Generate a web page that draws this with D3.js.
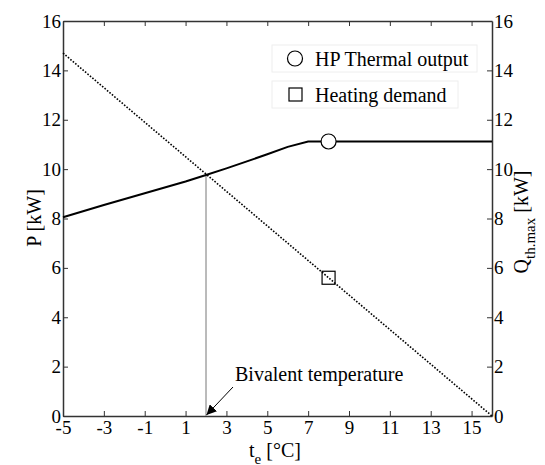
<!DOCTYPE html>
<html>
<head>
<meta charset="utf-8">
<script src="https://cdn.jsdelivr.net/npm/d3@7"></script>
<style>
body { margin: 0; background: white; }
svg text { font-family: "Liberation Serif", "Times New Roman", Times, "DejaVu Serif", serif !important; fill: black; }
</style>
</head>
<body>
<svg id="svg"></svg>
<script>
var larghezza = 545;
var altezza = 465;

// data
var temps = [-5, -3, -1, 1, 2, 3, 5, 6, 7, 16];
var hpOutput = [8.05, 8.55, 9.02, 9.5, 9.76, 10.03, 10.6, 10.9, 11.12, 11.12];
var demandTemps = [-5, 16];
var demand = [14.7, 0];
var markerTemp = 8;
var hpMarker = 11.12;
var demandMarker = 5.6;
var bivalentTemp = 2;
var bivalentP = 9.76;
var xTicks = [-5, -3, -1, 1, 3, 5, 7, 9, 11, 13, 15];
var yTicks = [0, 2, 4, 6, 8, 10, 12, 14, 16];
var legendLabels = ["HP Thermal output", "Heating demand"];

var x = d3.scaleLinear().domain([-5, 16]).range([63, 492]);
var y = d3.scaleLinear().domain([0, 16]).range([416, 21]);

function plain(d) { return String(d); }

function draw() {
    var svg = d3.select("#svg");
    svg.attr("width", larghezza).attr("height", altezza)
        .attr("font-family", "Liberation Serif");

    svg.append("defs").append("marker")
        .attr("id", "arrow")
        .attr("viewBox", "0 0 10 10")
        .attr("refX", 10).attr("refY", 5)
        .attr("markerWidth", 10).attr("markerHeight", 10)
        .attr("markerUnits", "userSpaceOnUse")
        .attr("orient", "auto")
        .append("path")
        .attr("d", "M0,0 L10,5 L0,10 Z")
        .style("fill", "black");

    drawAxes(svg);
    drawLines(svg);
    drawLegend(svg);
    drawLabels(svg);
}

function drawAxes(svg) {
    var bottom = svg.append("g").attr("transform", "translate(0," + y(0) + ")")
        .call(d3.axisBottom(x).tickValues(xTicks).tickFormat(plain).tickSizeInner(-5).tickSizeOuter(0).tickPadding(2));
    var top = svg.append("g").attr("transform", "translate(0," + y(16) + ")")
        .call(d3.axisTop(x).tickValues(xTicks).tickSizeInner(-5).tickSizeOuter(0).tickFormat(""));
    var left = svg.append("g").attr("transform", "translate(" + x(-5) + ",0)")
        .call(d3.axisLeft(y).tickValues(yTicks).tickFormat(plain).tickSizeInner(-5).tickSizeOuter(0).tickPadding(2));
    var right = svg.append("g").attr("transform", "translate(" + x(16) + ",0)")
        .call(d3.axisRight(y).tickValues(yTicks).tickFormat(plain).tickSizeInner(-5).tickSizeOuter(0).tickPadding(2));

    [bottom, top, left, right].forEach(function (g) {
        g.attr("font-family", null);
        g.select(".domain").style("stroke", "#333").style("stroke-width", "1.5px");
        g.selectAll(".tick line").style("stroke", "#333").style("stroke-width", "1px");
        g.selectAll(".tick text").style("font-size", "19px");
    });
    bottom.selectAll(".tick text").attr("dy", "0.85em");
}

function drawLines(svg) {
    // vertical line at bivalent point
    svg.append("path")
        .attr("d", "M" + x(bivalentTemp) + " " + y(bivalentP) + " L" + x(bivalentTemp) + " " + y(0))
        .style("stroke", "#777")
        .style("stroke-width", "1px");

    var line = d3.line().x(function (d) { return x(d[0]); }).y(function (d) { return y(d[1]); });

    svg.append("path")
        .attr("d", line(demandTemps.map(function (t, i) { return [t, demand[i]]; })))
        .style("fill", "none")
        .style("stroke", "black")
        .style("stroke-width", "1.6px")
        .style("stroke-dasharray", "1.6,1.6");

    svg.append("path")
        .attr("d", line(temps.map(function (t, i) { return [t, hpOutput[i]]; })))
        .style("fill", "none")
        .style("stroke", "black")
        .style("stroke-width", "2px");

    svg.append("circle")
        .attr("cx", x(markerTemp)).attr("cy", y(hpMarker)).attr("r", 7.5)
        .style("fill", "white").style("stroke", "black").style("stroke-width", "1.2px");

    svg.append("rect")
        .attr("x", x(markerTemp) - 6.5).attr("y", y(demandMarker) - 6.5)
        .attr("width", 13).attr("height", 13)
        .style("fill", "none").style("stroke", "black").style("stroke-width", "1.2px");

    // annotation
    svg.append("path")
        .attr("d", "M233 387 L" + (x(bivalentTemp) + 0.5) + " " + (y(0) - 1))
        .style("stroke", "black")
        .style("stroke-width", "1px")
        .attr("marker-end", "url(#arrow)");

    svg.append("text")
        .attr("x", 235).attr("y", 381)
        .style("font-size", "20px")
        .text("Bivalent temperature");
}

function drawLegend(svg) {
    var boxes = [[272, 45, 205, 27], [272, 81, 186, 27]];
    legendLabels.forEach(function (label, i) {
        var b = boxes[i];
        svg.append("rect")
            .attr("x", b[0]).attr("y", b[1]).attr("width", b[2]).attr("height", b[3])
            .style("fill", "white").style("stroke", "#eee").style("stroke-width", "1px");
        var cy = b[1] + b[3] / 2;
        if (i === 0) {
            svg.append("circle").attr("cx", 295).attr("cy", cy).attr("r", 7.5)
                .style("fill", "none").style("stroke", "black").style("stroke-width", "1.2px");
        } else {
            svg.append("rect").attr("x", 289).attr("y", cy - 6.5).attr("width", 13).attr("height", 13)
                .style("fill", "none").style("stroke", "black").style("stroke-width", "1.2px");
        }
        svg.append("text")
            .attr("x", 315).attr("y", cy + 7)
            .style("font-size", "20px")
            .text(label);
    });
}

function drawLabels(svg) {
    var xl = svg.append("text")
        .attr("x", 275).attr("y", 457)
        .attr("text-anchor", "middle")
        .style("font-size", "20px");
    xl.append("tspan").text("t");
    xl.append("tspan").attr("dy", 7).style("font-size", "15px").text("e");
    xl.append("tspan").attr("dy", -7).text(" [°C]");

    svg.append("text")
        .attr("transform", "translate(41,218) rotate(-90)")
        .attr("text-anchor", "middle")
        .style("font-size", "20px")
        .text("P [kW]");

    var rl = svg.append("text")
        .attr("transform", "translate(528,222) rotate(-90)")
        .attr("text-anchor", "middle")
        .style("font-size", "20px");
    rl.append("tspan").text("Q");
    rl.append("tspan").attr("dy", 7).style("font-size", "15px").text("th.max");
    rl.append("tspan").attr("dy", -7).text(" [kW]");
}

draw();
</script>
</body>
</html>
